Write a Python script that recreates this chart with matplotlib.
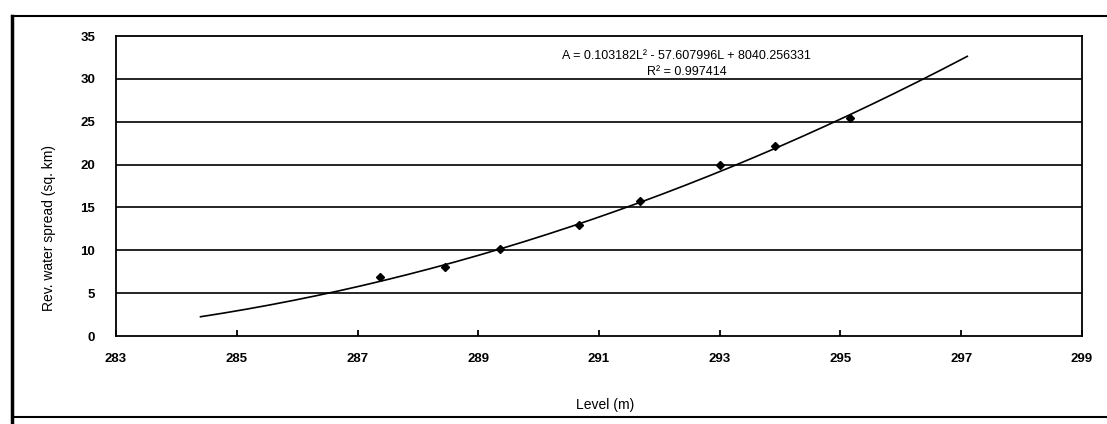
import numpy as np
import matplotlib.pyplot as plt
from matplotlib.lines import Line2D

plt.rcParams['font.family'] = ['Liberation Sans', 'DejaVu Sans']

# observed level vs revised water spread
level = [287.38, 288.45, 289.36, 290.67, 291.68, 293.0, 293.91, 295.15]
spread = [6.9, 8.1, 10.1, 12.9, 15.8, 19.9, 22.2, 25.4]

# quadratic trendline A = a L^2 + b L + c
coef = [0.103182, -57.607996, 8040.256331]
r2 = 0.997414
fit_range = (284.4, 297.1)

xticks = [283, 285, 287, 289, 291, 293, 295, 297, 299]
yticks = [0, 5, 10, 15, 20, 25, 30, 35]

fig = plt.figure(figsize=(11.07, 4.24), dpi=100)
ax = fig.add_axes([0.1048, 0.2075, 0.8726, 0.7075])

for y in yticks[1:-1]:
    ax.axhline(y, color='black', lw=1.2, zorder=1)

lx = np.linspace(*fit_range, 200)
ax.plot(lx, np.polyval(coef, lx), color='black', lw=1.2, zorder=2)
ax.plot(level, spread, ls='none', marker='D', ms=3.6, color='black', zorder=3)

ax.set_xlim(283, 299)
ax.set_ylim(0, 35)
ax.set_xticks(xticks)
ax.set_yticks(yticks)
ax.tick_params(axis='x', direction='in', length=4, width=1.3, pad=12,
               labelsize=9.5, top=False)
ax.tick_params(axis='y', length=0, pad=15, labelsize=9.5)
for lab in ax.get_xticklabels() + ax.get_yticklabels():
    lab.set_fontweight('bold')
for s in ax.spines.values():
    s.set_linewidth(1.3)

ax.set_xlabel('Level (m)', fontsize=10)
ax.xaxis.set_label_coords(0.506, -0.207)
ax.set_ylabel('Rev. water spread (sq. km)', fontsize=10)
ax.yaxis.set_label_coords(-0.062, 0.36)

ax.text(292.45, 32.7, 'A = 0.103182L\u00b2 - 57.607996L + 8040.256331',
        ha='center', va='center', fontsize=9)
ax.text(292.45, 30.75, f'R\u00b2 = {r2:.6f}', ha='center', va='center', fontsize=9)

# outer frame around the chart
fig.add_artist(Line2D([0.011, 0.011], [0.0, 0.962], color='black', lw=2.5))
fig.add_artist(Line2D([0.011, 1.0], [0.962, 0.962], color='black', lw=1.5))
fig.add_artist(Line2D([0.011, 1.0], [0.0165, 0.0165], color='black', lw=1.5))

fig.savefig('out.png', dpi=100)
